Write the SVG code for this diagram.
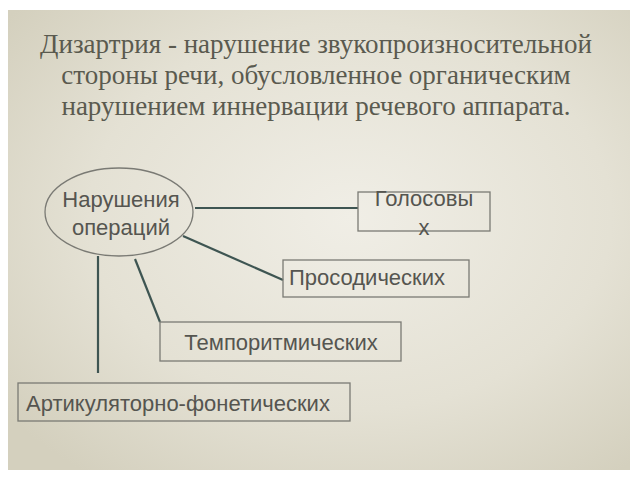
<svg xmlns="http://www.w3.org/2000/svg" width="640" height="480" viewBox="0 0 640 480">
<defs>
<radialGradient id="paper" cx="0.55" cy="0.45" r="0.7">
<stop offset="0" stop-color="#f0eee6"/>
<stop offset="0.6" stop-color="#e4e1d4"/>
<stop offset="1" stop-color="#d4d0be"/>
</radialGradient>
<style>
.title{font-family:"Liberation Serif","Times New Roman",serif;font-size:27px;fill:#5a5a4f;text-anchor:middle}
.lbl{font-family:"Liberation Sans",Arial,sans-serif;font-size:22px;fill:#555550}
.box{fill:none;stroke:#7a7a74;stroke-width:1.3}
.conn line{stroke:#3e5552;stroke-width:2.2}
</style>
</defs>
<rect width="640" height="480" fill="#ffffff"/>
<rect x="8" y="10" width="622" height="460" fill="url(#paper)"/>
<g id="title">
<text class="title" x="316" y="53">Дизартрия - нарушение звукопроизносительной</text>
<text class="title" x="316" y="84">стороны речи, обусловленное органическим</text>
<text class="title" x="316" y="115">нарушением иннервации речевого аппарата.</text>
</g>
<g class="conn" id="connectors">
<line x1="195" y1="208" x2="358" y2="208"/>
<line x1="183" y1="236" x2="283" y2="280"/>
<line x1="135" y1="259" x2="160" y2="322"/>
<line x1="98" y1="256" x2="98" y2="373"/>
</g>
<g id="n-main">
<ellipse cx="119" cy="212" rx="74" ry="44" class="box"/>
<text class="lbl" x="121" y="207" text-anchor="middle">Нарушения</text>
<text class="lbl" x="121" y="235" text-anchor="middle">операций</text>
</g>
<g id="n-golos">
<rect x="358" y="192" width="132" height="39" class="box"/>
<text class="lbl" x="424" y="206" text-anchor="middle">Голосовы</text>
<text class="lbl" x="424" y="235" text-anchor="middle">х</text>
</g>
<g id="n-prosod">
<rect x="283" y="260" width="186" height="37" class="box"/>
<text class="lbl" x="289" y="285">Просодических</text>
</g>
<g id="n-tempo">
<rect x="160" y="322" width="241" height="39" class="box"/>
<text class="lbl" x="281" y="350" text-anchor="middle">Темпоритмических</text>
</g>
<g id="n-artik">
<rect x="18" y="383" width="332" height="38" class="box"/>
<text class="lbl" x="26" y="411">Артикуляторно-фонетических</text>
</g>
</svg>
